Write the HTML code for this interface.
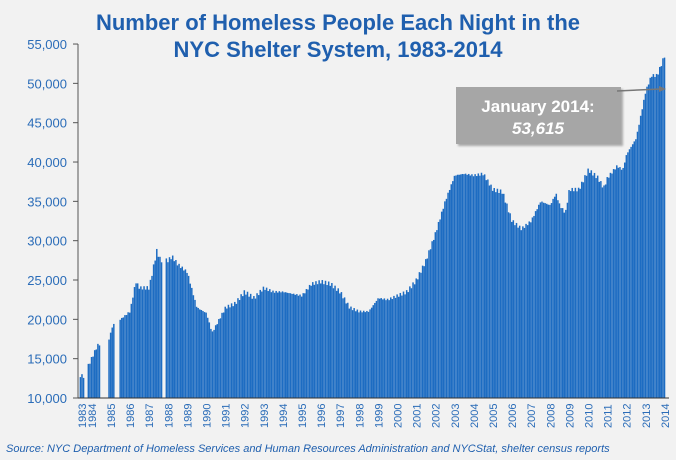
<!DOCTYPE html>
<html><head><meta charset="utf-8"><style>
body{margin:0;background:#f2f2f2;width:676px;height:460px;overflow:hidden;font-family:"Liberation Sans",sans-serif}
</style></head><body>
<svg id="s" width="676" height="460" xmlns="http://www.w3.org/2000/svg" style="position:absolute;left:0;top:0">
<rect width="676" height="460" fill="#f2f2f2"/>
<text x="338" y="30" text-anchor="middle" font-size="22" font-weight="bold" fill="#1f5fae">Number of Homeless People Each Night in the</text>
<text x="338" y="57" text-anchor="middle" font-size="22" font-weight="bold" fill="#1f5fae">NYC Shelter System, 1983-2014</text>
<g id="yl" font-size="13" fill="#2a6cb8" text-anchor="end"></g>
<g id="bars"></g>
<line x1="78" y1="44" x2="78" y2="398" stroke="#555" stroke-width="1"/>
<line x1="78" y1="398" x2="669" y2="398" stroke="#333" stroke-width="1"/>
<g id="xl" font-size="11" fill="#2a6cb8"></g>
<rect x="456" y="87" width="165" height="57" fill="#a6a6a6" style="filter:drop-shadow(2px 2px 1px rgba(0,0,0,0.3))"/>
<text x="538" y="112" text-anchor="middle" font-size="17" font-weight="bold" fill="#fff">January 2014:</text>
<text x="538" y="134" text-anchor="middle" font-size="17" font-weight="bold" font-style="italic" fill="#fff">53,615</text>
<line x1="617" y1="91" x2="661" y2="89" stroke="#777" stroke-width="1.5"/>
<polygon points="666,89 659,86 659,92" fill="#777"/>
<text x="6" y="452" font-size="11" font-style="italic" fill="#1f5fae">Source:  NYC Department of Homeless Services and Human Resources Administration and NYCStat, shelter census reports</text>
</svg>
<script>
var NS="http://www.w3.org/2000/svg",s=document.getElementById('s');
function el(p,t,a,txt){var e=document.createElementNS(NS,t);for(var k in a)e.setAttribute(k,a[k]);if(txt)e.textContent=txt;document.getElementById(p).appendChild(e);return e;}
function Y(v){return 398-(v-10000)/5000*39.33;}
for(var v=10000;v<=55000;v+=5000){el('yl','text',{x:67,y:Y(v)+5},v.toLocaleString('en-US'));el('yl','line',{x1:73,x2:78,y1:Y(v),y2:Y(v),stroke:'#555'});}
function X(y){return 111+(y-1985)*19.1;}
var yrs=[[1983,82],[1984,92]];for(var y=1985;y<=2014;y++)yrs.push([y,X(y)]);
yrs.forEach(function(p){el('xl','text',{x:0,y:0,transform:'translate('+(p[1]+4)+',428) rotate(-90)'},String(p[0]));});
var k=[[1983.4,12900],[1983.55,12700],[1983.85,14300],[1984.3,16700],[1984.9,17500],[1985.1,19300],[1985.5,20000],[1986,21000],[1986.3,24800],[1986.5,24000],[1987,24000],[1987.4,28700],[1987.6,27500],[1988.0,27500],[1988.2,28000],[1988.5,27000],[1989,26000],[1989.5,21500],[1990,20800],[1990.3,18300],[1991,21500],[1991.5,22000],[1992,23500],[1992.5,22700],[1993,24000],[1993.5,23500],[1994,23500],[1995,23000],[1995.5,24500],[1996,24800],[1996.5,24500],[1997,23500],[1997.5,21500],[1998,21000],[1998.5,21000],[1999,22700],[1999.5,22500],[2000,23000],[2000.5,23500],[2001,25000],[2001.5,27500],[2002,31000],[2002.5,35000],[2003,38300],[2003.5,38500],[2004,38300],[2004.5,38500],[2005,36500],[2005.5,36200],[2006,32500],[2006.5,31500],[2007,32500],[2007.5,35000],[2008,34500],[2008.3,36000],[2008.5,34500],[2008.8,33500],[2009,36500],[2009.5,36500],[2010,39000],[2010.5,38000],[2010.8,36700],[2011,38000],[2011.5,39500],[2011.8,39000],[2012,41000],[2012.5,43000],[2013,49000],[2013.3,51000],[2013.6,51000],[2014,53615]];
function val(t){for(var i=0;i<k.length-1;i++)if(t>=k[i][0]&&t<=k[i+1][0])return k[i][1]+(k[i+1][1]-k[i][1])*(t-k[i][0])/(k[i+1][0]-k[i][0]);return null;}
var gaps=[[1983.62,1983.78],[1984.4,1984.85],[1985.2,1985.4],[1987.72,1987.85]];
for(var t=1983.4;t<=2014.001;t+=1/12){
 var g=false;gaps.forEach(function(r){if(t>r[0]&&t<r[1])g=true;});if(g)continue;
 var v=val(Math.min(t,2014));if(v==null)continue;
 v+=(Math.sin(t*37)*250);
 var x=X(t);el('bars','rect',{x:x-0.8,y:Y(v),width:1.5,height:398-Y(v),fill:'#1d6cc2'});
}
</script>
</body></html>
